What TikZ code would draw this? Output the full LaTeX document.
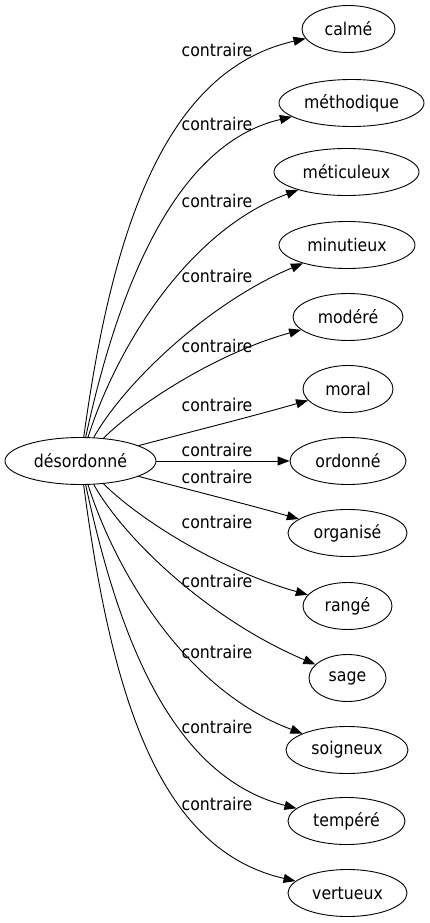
\documentclass[tikz,border=0pt]{standalone}
\usepackage{fontspec}
\setmainfont{DejaVu Sans}[FakeStretch=0.9]
\usetikzlibrary{shapes.geometric,arrows.meta}

\tikzset{
  word/.style={ellipse, draw, inner sep=0pt, minimum height=47pt, minimum width=#1},
  rel/.style={anchor=base, inner sep=0pt},
}

\begin{document}
\begin{tikzpicture}[x=1pt, y=-1pt, line width=0.9pt,
    >={Triangle[length=12pt,width=9pt]},
    font=\fontsize{17.5}{21}\selectfont]
    \useasboundingbox (0,0) rectangle (429,923);

    % Source word
    \node[word=151pt] (desordonne) at (80.5,461) {désordonné};

    % Contraries (right column)
    \node[word=93pt]  (calme)      at (348.5,29)  {calmé};
    \node[word=145pt] (methodique) at (351.5,103) {méthodique};
    \node[word=145pt] (meticuleux) at (346.5,172) {méticuleux};
    \node[word=136pt] (minutieux)  at (347,245)   {minutieux};
    \node[word=110pt] (modere)     at (348,317)   {modéré};
    \node[word=90pt]  (moral)      at (348,389)   {moral};
    \node[word=116pt] (ordonne)    at (348,461)   {ordonné};
    \node[word=119pt] (organise)   at (347.5,533) {organisé};
    \node[word=89pt]  (range)      at (347.5,606) {rangé};
    \node[word=77pt]  (sage)       at (347.5,678) {sage};
    \node[word=122pt] (soigneux)   at (347,750)   {soigneux};
    \node[word=117pt] (tempere)    at (346.5,821) {tempéré};
    \node[word=119pt] (vertueux)   at (347.5,893) {vertueux};

    % Edges (upper fan)
    \draw[->] (desordonne) .. controls (112,230) and (165,70) .. (calme);
    \draw[->] (desordonne) .. controls (115,302) and (170,145) .. (methodique);
    \draw[->] (desordonne) .. controls (115,352) and (185,232) .. (meticuleux);
    \draw[->] (desordonne) .. controls (125,382) and (210,302) .. (minutieux);
    \draw[->] (desordonne) .. controls (140,402) and (220,352) .. (modere);
    \draw[->] (desordonne) .. controls (190,432) and (250,417) .. (moral);

    % Edge (straight)
    \draw[->] (desordonne) -- (ordonne);

    % Edges (lower fan)
    \draw[->] (desordonne) .. controls (190,490) and (250,505) .. (organise);
    \draw[->] (desordonne) .. controls (140,520) and (220,570) .. (range);
    \draw[->] (desordonne) .. controls (125,540) and (210,620) .. (sage);
    \draw[->] (desordonne) .. controls (115,570) and (185,690) .. (soigneux);
    \draw[->] (desordonne) .. controls (115,620) and (165,775) .. (tempere);
    \draw[->] (desordonne) .. controls (112,700) and (160,850) .. (vertueux);

    % Edge labels
    \node[rel] (l-calme)      at (217,57)  {contraire};
    \node[rel] (l-methodique) at (217,131) {contraire};
    \node[rel] (l-meticuleux) at (217,207) {contraire};
    \node[rel] (l-minutieux)  at (217,282) {contraire};
    \node[rel] (l-modere)     at (217,352) {contraire};
    \node[rel] (l-moral)      at (217,411) {contraire};
    \node[rel] (l-ordonne)    at (217,456) {contraire};
    \node[rel] (l-organise)   at (217,483) {contraire};
    \node[rel] (l-range)      at (217,528) {contraire};
    \node[rel] (l-sage)       at (217,587) {contraire};
    \node[rel] (l-soigneux)   at (217,658) {contraire};
    \node[rel] (l-tempere)    at (217,733) {contraire};
    \node[rel] (l-vertueux)   at (217,810) {contraire};
\end{tikzpicture}
\end{document}
